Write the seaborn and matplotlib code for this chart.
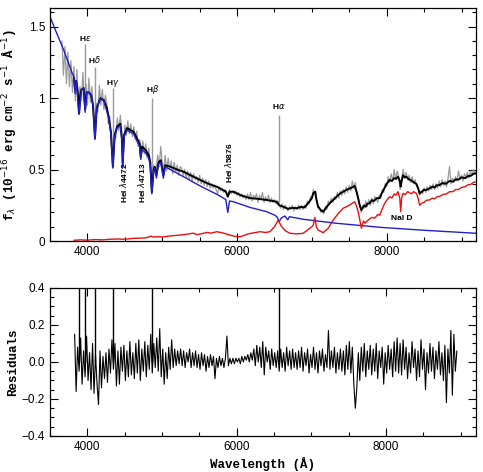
import numpy as np
import pandas as pd
import matplotlib
matplotlib.use("Agg")
import matplotlib.pyplot as plt
import seaborn as sns
from matplotlib.ticker import MultipleLocator, FixedLocator

# ---------------- data ----------------
# observed spectrum (grey), sampled every 20 A from 3660 to 9200 A
obs_start, obs_step = 3660, 20
obs_flux = [
    1.40, 1.16, 1.36, 1.10, 1.32, 1.08, 1.26, 1.04, 1.22, 0.98,
    1.20, 0.90, 1.08, 0.98, 1.18, 0.96, 1.10, 0.95, 1.14, 0.97,
    1.08, 0.88, 0.78, 0.96, 0.90, 1.09, 0.95, 1.06, 0.92, 1.02,
    0.96, 0.82, 0.87, 0.66, 0.58, 0.76, 0.72, 0.86, 0.77, 0.88,
    0.76, 0.62, 0.81, 0.74, 0.84, 0.75, 0.82, 0.73, 0.80, 0.71,
    0.77, 0.66, 0.71, 0.60, 0.70, 0.61, 0.68, 0.58, 0.65, 0.53,
    0.42, 0.53, 0.49, 0.52, 0.60, 0.52, 0.66, 0.55, 0.50, 0.60,
    0.49, 0.58, 0.50, 0.56, 0.47, 0.55, 0.48, 0.53, 0.46, 0.52,
    0.51, 0.46, 0.50, 0.44, 0.49, 0.43, 0.48, 0.42, 0.47, 0.43,
    0.45, 0.41, 0.46, 0.40, 0.44, 0.39, 0.43, 0.38, 0.42, 0.37,
    0.40, 0.37, 0.39, 0.36, 0.33, 0.38, 0.35, 0.37, 0.34, 0.36,
    0.34, 0.31, 0.36, 0.33, 0.35, 0.33, 0.35, 0.32, 0.34, 0.31,
    0.33, 0.30, 0.32, 0.29, 0.33, 0.29, 0.34, 0.28, 0.32, 0.30,
    0.33, 0.27, 0.32, 0.29, 0.34, 0.27, 0.31, 0.28, 0.32, 0.27,
    0.30, 0.27, 0.29, 0.26, 0.28, 0.27, 0.23, 0.26, 0.22, 0.25,
    0.24, 0.21, 0.24, 0.22, 0.25, 0.21, 0.24, 0.22, 0.25, 0.22,
    0.25, 0.22, 0.25, 0.23, 0.28, 0.26, 0.31, 0.30, 0.36, 0.33,
    0.31, 0.23, 0.24, 0.20, 0.22, 0.19, 0.24, 0.22, 0.28, 0.26,
    0.30, 0.27, 0.31, 0.29, 0.34, 0.30, 0.35, 0.32, 0.36, 0.33,
    0.38, 0.34, 0.39, 0.35, 0.42, 0.37, 0.41, 0.33, 0.31, 0.24,
    0.20, 0.25, 0.23, 0.28, 0.24, 0.29, 0.25, 0.30, 0.26, 0.31,
    0.30, 0.27, 0.32, 0.30, 0.36, 0.34, 0.40, 0.38, 0.45, 0.41,
    0.47, 0.42, 0.50, 0.43, 0.49, 0.45, 0.36, 0.43, 0.50, 0.44,
    0.48, 0.43, 0.46, 0.41, 0.45, 0.40, 0.43, 0.38, 0.37, 0.32,
    0.35, 0.33, 0.37, 0.34, 0.38, 0.35, 0.39, 0.36, 0.40, 0.36,
    0.40, 0.37, 0.42, 0.38, 0.43, 0.39, 0.42, 0.38, 0.44, 0.52,
    0.40, 0.44, 0.41, 0.45, 0.42, 0.49, 0.43, 0.46, 0.42, 0.47,
    0.45, 0.48, 0.44, 0.49, 0.46, 0.50, 0.47, 0.49,
]
# narrow emission lines in the observed spectrum
emis_wave = [3970, 4101, 4340, 4861, 6563]
emis_base = [1.00, 0.85, 0.70, 0.50, 0.27]
emis_peak = [1.38, 1.22, 1.07, 1.00, 0.88]

# composite model (black)
model_wave = [3820, 3835, 3850, 3870, 3889, 3905, 3920, 3950, 3970, 3990, 4020, 4050, 4075, 4101,
              4125, 4173, 4220, 4260, 4284, 4315, 4340, 4365, 4396, 4440, 4460, 4472, 4490, 4530,
              4580, 4617, 4660, 4698, 4713, 4730, 4773, 4820, 4840, 4861, 4885, 4900, 4922, 4950,
              4980, 5015, 5040, 5107, 5200, 5284, 5400, 5507, 5620, 5729, 5800, 5850, 5876, 5900,
              5951, 6050, 6173, 6280, 6396, 6470, 6529, 6563, 6618, 6678, 6740, 6796, 6850, 6900,
              6960, 7000, 7018, 7045, 7060, 7084, 7120, 7151, 7200, 7250, 7284, 7330, 7370, 7418,
              7470, 7520, 7573, 7600, 7618, 7640,
              7662, 7700, 7720, 7740, 7773, 7800, 7830, 7870, 7907, 7930, 7960, 8000, 8040, 8070,
              8100, 8125, 8151, 8175, 8187, 8200, 8218, 8240, 8260, 8300, 8325, 8350, 8396, 8420,
              8440, 8470, 8500, 8520, 8573, 8610, 8640, 8670, 8700, 8750, 8790, 8840, 8884, 8920,
              8960, 9000, 9050, 9090, 9120, 9160, 9196]
model_flux = [1.14, 1.06, 1.12, 1.05, 0.89, 1.02, 1.06, 1.07, 0.92, 1.04, 1.04, 1.02, 0.95, 0.72,
              0.93, 1.00, 0.985, 0.93, 0.87, 0.76, 0.52, 0.74, 0.80, 0.82, 0.72, 0.54, 0.74, 0.79,
              0.775, 0.765, 0.72, 0.68, 0.59, 0.66, 0.64, 0.60, 0.55, 0.34, 0.50, 0.52, 0.46, 0.55,
              0.565, 0.46, 0.53, 0.52, 0.50, 0.485, 0.455, 0.427, 0.40, 0.38, 0.36, 0.345, 0.31, 0.345,
              0.345, 0.32, 0.30, 0.295, 0.287, 0.28, 0.275, 0.25, 0.24, 0.225, 0.232, 0.229, 0.238, 0.235,
              0.27, 0.30, 0.333, 0.345, 0.29, 0.24, 0.215, 0.205, 0.24, 0.27, 0.287, 0.31, 0.33, 0.345,
              0.36, 0.37, 0.385, 0.34, 0.30, 0.25,
              0.217, 0.25, 0.24, 0.26, 0.264, 0.285, 0.28, 0.30, 0.30, 0.33, 0.36, 0.40, 0.427, 0.42,
              0.44, 0.435, 0.45, 0.42, 0.38, 0.42, 0.46, 0.445, 0.45, 0.43, 0.425, 0.415, 0.40, 0.37,
              0.333, 0.345, 0.36, 0.355, 0.368, 0.38, 0.375, 0.39, 0.39, 0.405, 0.40, 0.42, 0.415, 0.43,
              0.43, 0.445, 0.44, 0.455, 0.455, 0.47, 0.473]

# white-dwarf model (blue)
wd_wave = [3500, 3573, 3684, 3751, 3800, 3820, 3835, 3850, 3889, 3920, 3950, 3970, 3990, 4020,
           4050, 4075, 4101, 4125, 4173, 4220, 4284, 4315, 4340, 4365, 4396, 4440, 4460, 4472,
           4490, 4530, 4617, 4698, 4713, 4730, 4773, 4820, 4840, 4861, 4885, 4900, 4922, 4950,
           4980, 5015, 5040, 5107, 5284, 5507, 5729, 5850, 5876, 5900, 5951, 6173, 6396, 6507,
           6540, 6563, 6590, 6640, 6678, 6700, 6884, 7329, 7907, 8500, 9196]
wd_flux = [1.57, 1.475, 1.335, 1.24, 1.17, 1.15, 1.03, 1.12, 0.89, 1.06, 1.07, 0.90, 1.04, 1.04,
           1.02, 0.95, 0.71, 0.93, 1.00, 0.98, 0.86, 0.75, 0.51, 0.73, 0.79, 0.81, 0.71, 0.51,
           0.73, 0.775, 0.75, 0.66, 0.57, 0.64, 0.62, 0.58, 0.53, 0.33, 0.49, 0.51, 0.44, 0.54,
           0.55, 0.44, 0.52, 0.50, 0.45, 0.385, 0.327, 0.29, 0.20, 0.28, 0.275, 0.235, 0.205, 0.18,
           0.165, 0.135, 0.16, 0.175, 0.148, 0.17, 0.152, 0.124, 0.096, 0.075, 0.054]

# M-dwarf template (red)
md_wave = [3820, 3900, 4000, 4100, 4200, 4300, 4400, 4500, 4600, 4700, 4780, 4850, 4880, 4950,
           5000, 5100, 5200, 5300, 5413, 5460, 5500, 5600, 5650, 5729, 5800, 5850, 5900, 5950,
           6000, 6040, 6100, 6150, 6230, 6307, 6380, 6440, 6500, 6551, 6575, 6596, 6650, 6707,
           6800, 6884, 6950, 7000, 7018, 7040, 7060, 7084, 7151, 7220, 7284, 7350, 7418, 7500,
           7573, 7600, 7618, 7640,
           7662, 7690, 7710, 7729, 7760, 7800, 7840, 7880, 7907, 7940, 7970, 8000, 8040, 8070,
           8100, 8125, 8151, 8175, 8187, 8200, 8218, 8250, 8280, 8300, 8330, 8360, 8396, 8420,
           8440, 8470, 8500, 8530, 8573, 8610, 8640, 8680, 8700, 8750, 8800, 8840, 8884, 8920,
           8960, 9000, 9050, 9090, 9120, 9160, 9196]
md_flux = [0.005, 0.008, 0.006, 0.010, 0.008, 0.012, 0.014, 0.012, 0.018, 0.020, 0.022, 0.034, 0.028, 0.030,
           0.028, 0.035, 0.040, 0.045, 0.055, 0.045, 0.048, 0.060, 0.055, 0.065, 0.058, 0.050, 0.042, 0.035,
           0.030, 0.030, 0.040, 0.050, 0.058, 0.065, 0.060, 0.065, 0.100, 0.147, 0.120, 0.100, 0.070, 0.054,
           0.050, 0.054, 0.080, 0.100, 0.110, 0.165, 0.100, 0.077, 0.058, 0.090, 0.147, 0.190, 0.229, 0.250,
           0.275, 0.240, 0.205, 0.150,
           0.090, 0.140, 0.125, 0.135, 0.150, 0.165, 0.160, 0.185, 0.180, 0.225, 0.260, 0.285, 0.310, 0.300,
           0.330, 0.320, 0.345, 0.300, 0.205, 0.300, 0.333, 0.325, 0.345, 0.340, 0.330, 0.345, 0.333, 0.300,
           0.250, 0.265, 0.270, 0.285, 0.287, 0.300, 0.295, 0.312, 0.310, 0.325, 0.330, 0.345, 0.345, 0.360,
           0.360, 0.375, 0.380, 0.395, 0.395, 0.410, 0.415]

# residuals, sampled every 20 A from 3830 to 8950 A
res_start, res_step = 3830, 20
residuals = [
    0.15, -0.16, 0.08, -0.05, 0.13, -0.12, 0.06, -0.08, 0.14, -0.10,
    0.05, -0.15, 0.10, -0.17, 0.04, -0.12, -0.23, 0.06, -0.14, 0.03,
    -0.09, 0.05, -0.11, 0.07, -0.06, 0.12, -0.04, 0.10, -0.13, 0.06,
    -0.12, 0.08, -0.05, 0.09, -0.10, 0.06, -0.08, 0.11, -0.07, 0.05,
    -0.09, 0.10, -0.06, 0.12, -0.10, 0.07, -0.05, 0.11, -0.08, 0.09,
    -0.04, 0.15, -0.06, 0.10, -0.03, 0.13, -0.05, 0.18, -0.08, 0.07,
    -0.12, 0.05, -0.09, 0.08, -0.04, 0.12, -0.03, 0.07, -0.02, 0.06,
    -0.01, 0.07, -0.02, 0.06, -0.03, 0.05, 0.00, 0.07, -0.03, 0.05,
    -0.02, 0.06, -0.03, 0.04, -0.04, 0.05, -0.02, 0.04, -0.05, 0.03,
    -0.03, 0.04, -0.02, 0.03, -0.09, 0.02, -0.03, 0.03, -0.02, 0.02,
    -0.03, 0.02, 0.14, -0.02, 0.02, -0.01, 0.02, -0.01, 0.02, 0.00,
    0.02, -0.01, 0.03, 0.00, 0.03, 0.01, 0.04, 0.00, 0.05, 0.01,
    0.07, -0.02, 0.09, 0.00, 0.08, -0.03, 0.11, -0.07, 0.08, 0.00,
    0.06, -0.04, 0.07, -0.02, 0.05, -0.03, 0.06, -0.05, 0.07, -0.03,
    0.05, -0.05, 0.08, -0.02, 0.06, -0.04, 0.07, -0.03, 0.05, -0.04,
    0.06, -0.03, 0.08, -0.05, 0.05, -0.02, 0.07, -0.06, 0.04, -0.03,
    0.08, -0.04, 0.05, -0.06, 0.06, -0.02, 0.07, -0.05, 0.04, -0.03,
    0.17, -0.04, 0.06, -0.03, 0.08, -0.06, 0.05, -0.04, 0.07, -0.05,
    0.06, -0.07, 0.09, -0.04, 0.11, -0.06, 0.08, -0.12, -0.25, -0.14,
    0.05, -0.10, 0.08, -0.05, 0.10, -0.08, 0.06, -0.04, 0.09, -0.07,
    0.07, -0.05, 0.10, -0.09, 0.06, -0.03, 0.08, -0.12, 0.05, -0.06,
    0.09, -0.04, 0.07, -0.08, 0.11, -0.05, 0.13, -0.06, 0.10, -0.07,
    0.12, -0.04, 0.08, -0.09, 0.05, -0.06, 0.11, -0.03, 0.07, -0.10,
    0.06, -0.08, 0.12, -0.04, 0.07, -0.15, 0.05, -0.06, 0.10, -0.05,
    0.08, -0.09, 0.06, -0.04, 0.11, -0.07, 0.05, -0.10, 0.09, -0.22,
    0.07, -0.06, 0.17, -0.18, 0.15, -0.05, 0.06,
]
# residual emission-line spikes (run off the top of the panel)
res_spike_wave = [3889, 3970, 4101, 4340, 4861, 6563]
res_spike_top = [0.6, 0.6, 0.6, 0.6, 0.6, 0.6]

# line labels
lab_text = [r"H$\epsilon$", r"H$\delta$", r"H$\gamma$", r"H$\beta$", r"H$\alpha$", "NaI D"]
lab_wave = [3970, 4095, 4335, 4867, 6560, 8200]
lab_flux = [1.42, 1.27, 1.10, 1.06, 0.94, 0.16]
hei_text = [r"HeI $\lambda$4472", r"HeI $\lambda$4713", r"HeI $\lambda$5876"]
hei_wave = [4480, 4720, 5880]
hei_flux = [0.41, 0.41, 0.545]

# ---------------- plotting ----------------
sns.set_style("ticks")
plt.rcParams["font.family"] = ["Liberation Sans", "DejaVu Sans"]
plt.rcParams["mathtext.fontset"] = "dejavusans"
for k in ("text.color", "axes.labelcolor", "xtick.color", "ytick.color", "axes.edgecolor"):
    plt.rcParams[k] = "black"

obs_wave = obs_start + obs_step * np.arange(len(obs_flux))
res_wave = res_start + res_step * np.arange(len(residuals))

df_obs = pd.DataFrame({"wave": obs_wave, "flux": obs_flux})
df_mod = pd.DataFrame({"wave": model_wave, "flux": model_flux})
df_wd = pd.DataFrame({"wave": wd_wave, "flux": wd_flux})
df_md = pd.DataFrame({"wave": md_wave, "flux": md_flux})
df_res = pd.DataFrame({"wave": res_wave, "res": residuals})

fig = plt.figure(figsize=(4.83, 4.72), dpi=100)
ax1 = fig.add_axes([0.1035, 0.4894, 0.883, 0.4936])
ax2 = fig.add_axes([0.1035, 0.0763, 0.881, 0.3136])

grey = "#9a9a9a"
sns.lineplot(data=df_obs, x="wave", y="flux", ax=ax1, color=grey, lw=0.9,
             estimator=None, sort=False)
ax1.vlines(emis_wave, emis_base, emis_peak, color=grey, lw=1.0)
sns.lineplot(data=df_mod, x="wave", y="flux", ax=ax1, color="black", lw=1.4,
             estimator=None, sort=False)
sns.lineplot(data=df_wd, x="wave", y="flux", ax=ax1, color="#1f1fd0", lw=1.0,
             estimator=None, sort=False)
sns.lineplot(data=df_md, x="wave", y="flux", ax=ax1, color="#e81010", lw=1.0,
             estimator=None, sort=False)

sns.lineplot(data=df_res, x="wave", y="res", ax=ax2, color="black", lw=0.8,
             estimator=None, sort=False)
ax2.vlines(res_spike_wave, 0, res_spike_top, color="black", lw=1.0)

for t, x, y in zip(lab_text, lab_wave, lab_flux):
    ax1.text(x, y, t, ha="center", va="center", fontsize=6, fontweight="bold")
for t, x, y in zip(hei_text, hei_wave, hei_flux):
    ax1.text(x, y, t, ha="center", va="center", fontsize=6, fontweight="bold", rotation=90)

ax1.set_xlim(3500, 9200)
ax1.set_ylim(0, 1.63)
ax2.set_xlim(3500, 9200)
ax2.set_ylim(-0.4, 0.4)

ax1.yaxis.set_major_locator(FixedLocator([0, 0.5, 1, 1.5]))
ax1.set_yticklabels(["0", "0.5", "1", "1.5"])
ax1.yaxis.set_minor_locator(MultipleLocator(0.1))
ax2.yaxis.set_major_locator(MultipleLocator(0.2))
ax2.yaxis.set_minor_locator(MultipleLocator(0.05))
for ax in (ax1, ax2):
    ax.xaxis.set_major_locator(FixedLocator([4000, 6000, 8000]))
    ax.xaxis.set_minor_locator(MultipleLocator(500))
    ax.tick_params(which="both", direction="in", top=True, right=True, labelsize=8.5,
                   colors="black")
    ax.tick_params(which="major", length=6, width=0.8)
    ax.tick_params(which="minor", length=3, width=0.8)
    for s in ax.spines.values():
        s.set_linewidth(0.9)
        s.set_color("black")
    ax.set_xlabel("")
    ax.set_ylabel("")

mono = ["Liberation Mono", "DejaVu Sans Mono"]
ax1.set_ylabel(r"f$_\lambda$ (10$^{-16}$ erg cm$^{-2}$ s$^{-1}$ Å$^{-1}$)",
               fontsize=9, family=mono, fontweight="bold", labelpad=8)
ax2.set_ylabel("Residuals", fontsize=9, family=mono, fontweight="bold", labelpad=2)
ax2.set_xlabel("Wavelength (Å)", fontsize=9, family=mono, fontweight="bold", labelpad=3)

fig.savefig("out.png", dpi=100)
